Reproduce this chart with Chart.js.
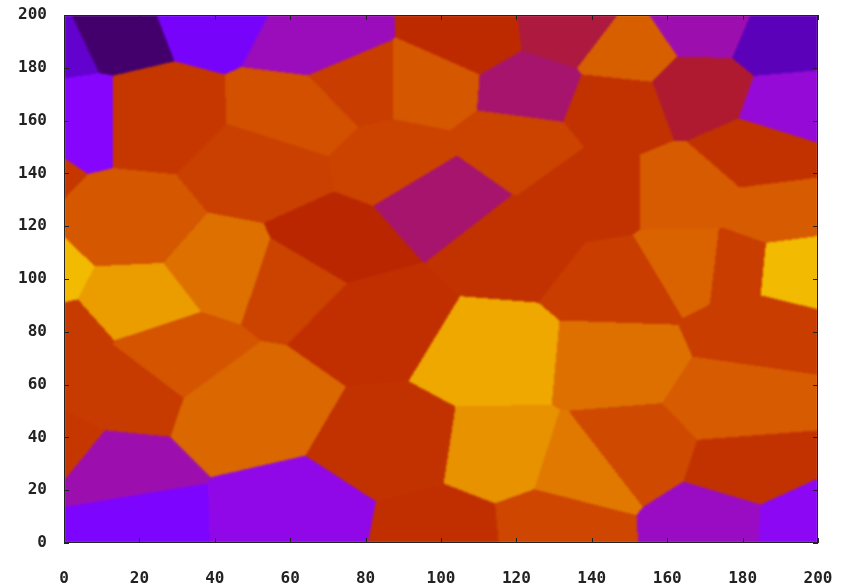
<!DOCTYPE html>
<html>
<head>
<meta charset="utf-8">
<script src="https://cdn.jsdelivr.net/npm/chart.js@4.4.1/dist/chart.umd.min.js"></script>
<style>
  html, body { margin: 0; padding: 0; background: #fff; }
  #wrap { width: 843px; height: 586px; }
</style>
</head>
<body>
<div id="wrap"><canvas id="voronoiChart"></canvas></div>
<script>
// seed sites of the voronoi cells (data units) and their palette level 0..1
const seedX = [12, -3, 3, 38, 68, 107.7, 134, 149, 170, 190,
  169, 193, 124, 146, 23, 63, 78.5, 96, 88, 120,
  53, -16, 17, -9, 19, 43, 60, 71, 100, 120,
  82, -2, 28, 49, 10, -4, 14, 63, 88, 100,
  115, 116, 138, 130, 146, 150, 179, 182, 174, 195,
  147.5, 166, 166.6, 178.5, 192.6, 188.6, 184.6, 184.6, 139.5, 15];
const seedY = [195, 190, 162, 202, 191, 192, 194, 186, 196, 190,
  172, 166, 172, 166, 162, 163, 173.5, 173.5, 145, 151,
  141, 142, 120, 101, 91, 104, 100, 113, 131, 113,
  85, 78, 72, 52, 25, 33, 8, 9, 36, 4,
  71, 33, 28, 6, 69, 34.5, 54, 27, 8, 7,
  98, 132, 106, 105, 104, 125, 147, 81, 132, 60];
const seedLevel = [0.07, 0.15, 0.27, 0.22, 0.37, 0.55, 0.46, 0.72, 0.38, 0.13,
  0.47, 0.34, 0.43, 0.58, 0.6, 0.68, 0.62, 0.7, 0.64, 0.64,
  0.63, 0.6, 0.7, 0.9, 0.85, 0.76, 0.64, 0.53, 0.43, 0.58,
  0.57, 0.61, 0.69, 0.74, 0.38, 0.6, 0.24, 0.32, 0.58, 0.57,
  0.87, 0.83, 0.78, 0.65, 0.76, 0.66, 0.71, 0.58, 0.36, 0.3,
  0.62, 0.71, 0.73, 0.62, 0.9, 0.71, 0.58, 0.62, 0.58, 0.61];

const axisMin = 0, axisMax = 200, tickStep = 20;

// gnuplot default palette (rgbformulae 7,5,15)
function palette(v) {
  const c = x => Math.round(255 * Math.max(0, Math.min(1, x)));
  return [c(Math.sqrt(v)), c(v * v * v), c(Math.sin(2 * Math.PI * v))];
}

const points = seedX.map((x, i) => ({ x, y: seedY[i], v: seedLevel[i] }));

const voronoiPlugin = {
  id: 'voronoi',
  beforeDatasetsDraw(chart) {
    const { ctx, chartArea: a, scales } = chart;
    const w = Math.round(a.right - a.left), h = Math.round(a.bottom - a.top);
    const off = document.createElement('canvas');
    off.width = w; off.height = h;
    const octx = off.getContext('2d');
    const img = octx.createImageData(w, h);
    const xs = [], ys = [];
    for (let i = 0; i < w; i++) xs.push(scales.x.getValueForPixel(a.left + i + 0.5));
    for (let j = 0; j < h; j++) ys.push(scales.y.getValueForPixel(a.top + j + 0.5));
    const cols = points.map(p => palette(p.v));
    for (let j = 0; j < h; j++) {
      for (let i = 0; i < w; i++) {
        let best = 0, bd = Infinity;
        for (let k = 0; k < points.length; k++) {
          const dx = xs[i] - points[k].x, dy = ys[j] - points[k].y;
          const d = dx * dx + dy * dy;
          if (d < bd) { bd = d; best = k; }
        }
        const o = (j * w + i) * 4, c = cols[best];
        img.data[o] = c[0]; img.data[o + 1] = c[1]; img.data[o + 2] = c[2]; img.data[o + 3] = 255;
      }
    }
    octx.putImageData(img, 0, 0);
    ctx.save();
    ctx.beginPath();
    ctx.rect(a.left, a.top, w, h);
    ctx.clip();
    ctx.filter = 'blur(0.8px)';
    ctx.drawImage(off, a.left, a.top);
    ctx.restore();
  },
  afterDraw(chart) {
    const { ctx, chartArea: a, scales } = chart;
    ctx.save();
    ctx.strokeStyle = '#222';
    ctx.lineWidth = 1;
    // inward tick marks on all four sides
    ctx.beginPath();
    for (let v = axisMin; v <= axisMax; v += tickStep) {
      const px = Math.round(scales.x.getPixelForValue(v)) + 0.5;
      ctx.moveTo(px, a.bottom); ctx.lineTo(px, a.bottom - 5);
      ctx.moveTo(px, a.top); ctx.lineTo(px, a.top + 5);
      const py = Math.round(scales.y.getPixelForValue(v)) + 0.5;
      ctx.moveTo(a.left, py); ctx.lineTo(a.left + 5, py);
      ctx.moveTo(a.right, py); ctx.lineTo(a.right - 5, py);
    }
    ctx.stroke();
    ctx.strokeRect(Math.round(a.left) + 0.5, Math.round(a.top) + 0.5,
      Math.round(a.right - a.left) - 1, Math.round(a.bottom - a.top) - 1);
    ctx.restore();
  }
};

const tickFont = { family: 'DejaVu Sans Mono', size: 16, weight: 'bold' };

new Chart(document.getElementById('voronoiChart'), {
  type: 'scatter',
  data: {
    datasets: [{ label: 'sites', data: points, pointRadius: 0, pointHoverRadius: 0 }]
  },
  options: {
    responsive: true,
    maintainAspectRatio: false,
    animation: false,
    events: [],
    layout: { padding: { top: 15, right: 25, left: 0, bottom: 0 } },
    plugins: { legend: { display: false }, tooltip: { enabled: false } },
    scales: {
      x: {
        type: 'linear', min: axisMin, max: axisMax,
        grid: { display: false, drawTicks: false },
        border: { display: false },
        ticks: { stepSize: tickStep, font: tickFont, color: '#222', padding: 26, maxRotation: 0 },
        afterFit: s => { s.height = 43; s.paddingLeft = 0; s.paddingRight = 0; }
      },
      y: {
        type: 'linear', min: axisMin, max: axisMax,
        grid: { display: false, drawTicks: false },
        border: { display: false },
        ticks: { stepSize: tickStep, font: tickFont, color: '#222', padding: 17 },
        afterFit: s => { s.width = 64; s.paddingTop = 0; s.paddingBottom = 0; }
      }
    }
  },
  plugins: [voronoiPlugin]
});
</script>
</body>
</html>
